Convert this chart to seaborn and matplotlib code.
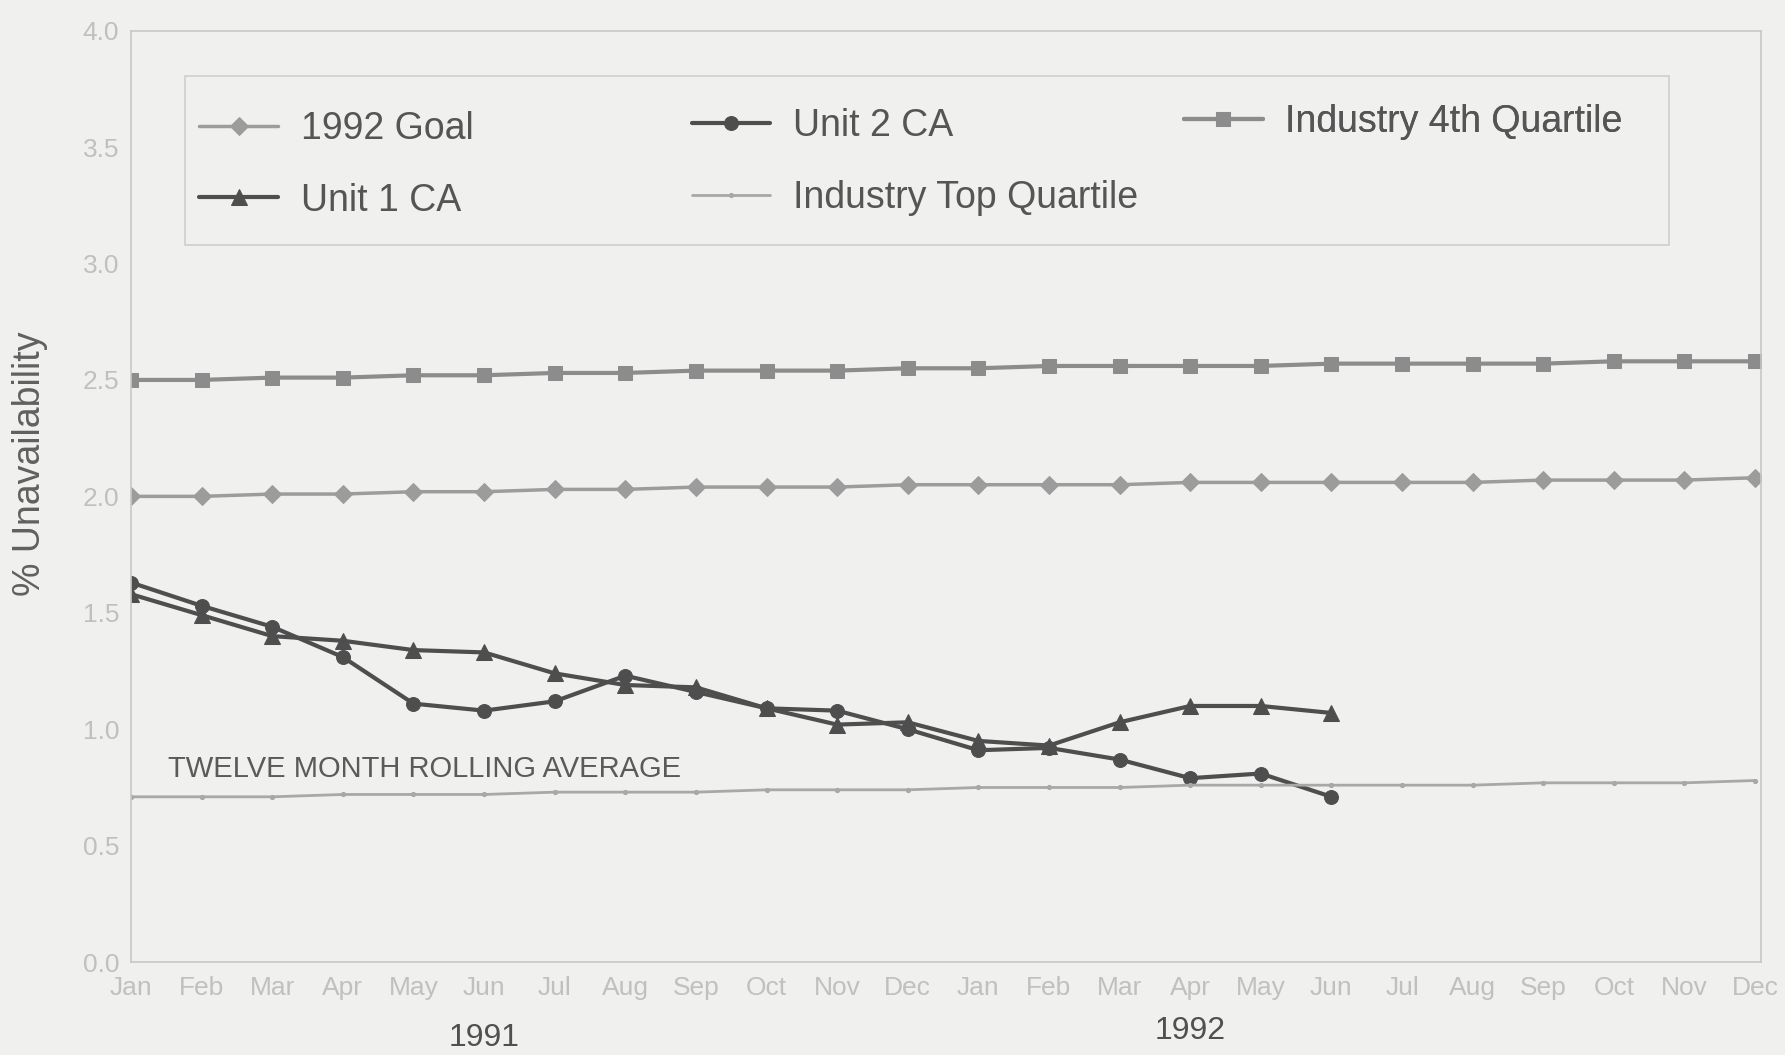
import numpy as np
import pandas as pd
import matplotlib
matplotlib.use("Agg")
import matplotlib.pyplot as plt
from matplotlib.patches import Rectangle
import seaborn as sns

MONTHS = ["Jan", "Feb", "Mar", "Apr", "May", "Jun", "Jul", "Aug", "Sep", "Oct", "Nov", "Dec"]
month_labels = MONTHS * 2

goal_1992 = [2.00, 2.00, 2.01, 2.01, 2.02, 2.02, 2.03, 2.03, 2.04, 2.04, 2.04, 2.05,
             2.05, 2.05, 2.05, 2.06, 2.06, 2.06, 2.06, 2.06, 2.07, 2.07, 2.07, 2.08]
ind_4th = [2.50, 2.50, 2.51, 2.51, 2.52, 2.52, 2.53, 2.53, 2.54, 2.54, 2.54, 2.55,
           2.55, 2.56, 2.56, 2.56, 2.56, 2.57, 2.57, 2.57, 2.57, 2.58, 2.58, 2.58]
ind_top = [0.71, 0.71, 0.71, 0.72, 0.72, 0.72, 0.73, 0.73, 0.73, 0.74, 0.74, 0.74,
           0.75, 0.75, 0.75, 0.76, 0.76, 0.76, 0.76, 0.76, 0.77, 0.77, 0.77, 0.78]
unit1_ca = [1.58, 1.49, 1.40, 1.38, 1.34, 1.33, 1.24, 1.19, 1.18, 1.09, 1.02, 1.03,
            0.95, 0.93, 1.03, 1.10, 1.10, 1.07]
unit2_ca = [1.63, 1.53, 1.44, 1.31, 1.11, 1.08, 1.12, 1.23, 1.16, 1.09, 1.08, 1.00,
            0.91, 0.92, 0.87, 0.79, 0.81, 0.71]

series = [
    ("1992 Goal", goal_1992, "D", "#9c9c9c", 2.5, 9),
    ("Unit 1 CA", unit1_ca, "^", "#4e4e4e", 3.0, 11),
    ("Unit 2 CA", unit2_ca, "o", "#4e4e4e", 3.0, 10),
    ("Industry Top Quartile", ind_top, ".", "#a8a8a8", 2.0, 6),
    ("Industry 4th Quartile", ind_4th, "s", "#8c8c8c", 3.0, 10),
]

sns.set_style("white")
plt.rcParams["font.family"] = ["Liberation Sans", "DejaVu Sans"]

BG = "#f0f0ee"
fig = plt.figure(figsize=(17.85, 10.55), dpi=100, facecolor=BG)
ax = fig.add_axes([0.0734, 0.088, 0.913, 0.883])
ax.set_facecolor(BG)

for name, vals, mk, col, lw, ms in series:
    df = pd.DataFrame({"x": np.arange(len(vals)), "y": vals})
    sns.lineplot(data=df, x="x", y="y", ax=ax, color=col, marker=mk, lw=lw,
                 markersize=ms, markeredgecolor=col, label=name, legend=False)

ax.set_xlim(0, 23.08)
ax.set_ylim(0, 4.0)
ax.set_xticks(range(24))
ax.set_xticklabels(month_labels)
ax.set_yticks(np.arange(0, 4.01, 0.5))
ax.set_yticklabels([f"{v:.1f}" for v in np.arange(0, 4.01, 0.5)])
ax.tick_params(axis="both", direction="inout", length=10, width=1.2,
               color="#b8b8b8", labelcolor="#c0c0c0", labelsize=19)
ax.tick_params(axis="x", pad=5)
for s in ax.spines.values():
    s.set_color("#c8c8c8")
    s.set_linewidth(1.2)

ax.set_xlabel("")
ax.set_ylabel("% Unavailability", fontsize=27, color="#606060")
ax.yaxis.set_label_coords(-0.051, 0.535)

# annotation sits just above the top-quartile line
ax.text(0.53, 0.77, "TWELVE MONTH ROLLING AVERAGE", fontsize=21, color="#5a5a5a",
        ha="left", va="bottom")
fig.text(0.0734 + 0.913 * 5 / 23.08, 0.016, "1991", fontsize=23, color="#505050",
         ha="center", va="center")
fig.text(0.0734 + 0.913 * 15 / 23.08, 0.023, "1992", fontsize=23, color="#505050",
         ha="center", va="center")

# legend: frame plus three separately placed columns
ax.add_patch(Rectangle((0.033, 0.77), 0.911, 0.181, transform=ax.transAxes,
                       fill=False, ec="#cfcfcf", lw=1.2, zorder=1))
handles, labels = ax.get_legend_handles_labels()
lookup = dict(zip(labels, handles))
columns = [
    (["1992 Goal", "Unit 1 CA"], 0.042, 0.856),
    (["Unit 2 CA", "Industry Top Quartile"], 0.344, 0.859),
    (["Industry 4th Quartile"], 0.646, 0.902),
]
for names, x0, y0 in columns:
    leg = ax.legend([lookup[n] for n in names], names, loc="center left",
                    bbox_to_anchor=(x0, y0), fontsize=27, frameon=False,
                    handlelength=2.1, handletextpad=0.6, labelspacing=0.95,
                    borderpad=0, borderaxespad=0)
    for t in leg.get_texts():
        t.set_color("#555555")
    ax.add_artist(leg)

fig.savefig("out.png", dpi=100, facecolor=fig.get_facecolor())
